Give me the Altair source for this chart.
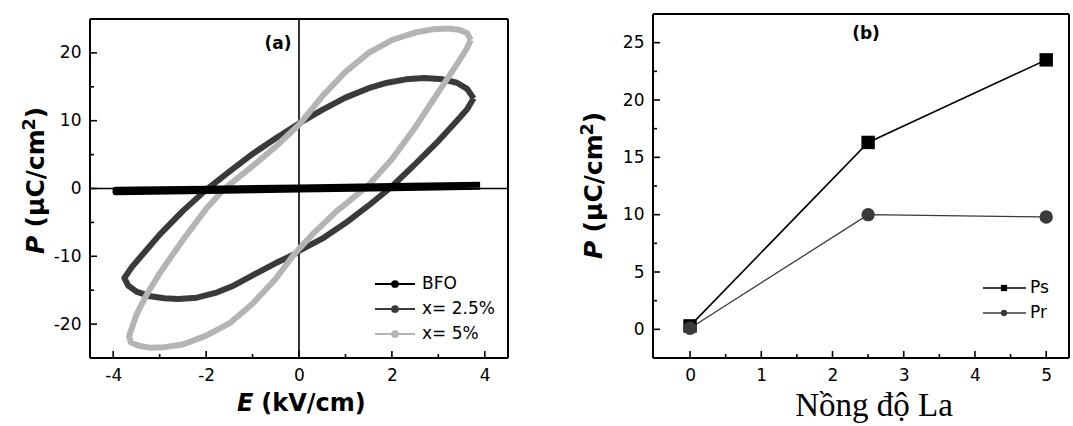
import altair as alt
import pandas as pd

# ---------------- Panel (a): P-E hysteresis loops ----------------
bfo_E = [3.90, 2.00, 0.00, -2.00, -3.95, -3.95, -2.00, 0.00, 2.00, 3.90]
bfo_P = [0.55, 0.36, 0.16, -0.04, -0.20, -0.55, -0.36, -0.16, 0.04, 0.24]

x25_E = [3.76, 3.62, 3.40, 3.10, 2.70, 2.30, 1.90, 1.50, 1.00, 0.50, 0.00, -0.50, -1.00, -1.50,
         -2.00, -2.50, -3.00, -3.40, -3.60, -3.76,
         -3.68, -3.50, -3.20, -2.90, -2.60, -2.20, -1.80, -1.40, -1.00, -0.50, -0.10, 0.00, 0.50,
         1.00, 1.50, 2.00, 2.50, 3.00, 3.40, 3.62, 3.76]
x25_P = [13.3, 14.7, 15.6, 16.1, 16.3, 16.1, 15.6, 14.8, 13.4, 11.6, 9.6, 7.4, 5.1, 2.5,
         -0.2, -3.3, -6.8, -10.0, -11.6, -13.2,
         -14.3, -15.2, -15.9, -16.2, -16.3, -16.1, -15.4, -14.3, -12.8, -11.0, -9.7, -9.2, -7.4,
         -5.1, -2.5, 0.3, 3.6, 7.0, 10.0, 11.7, 13.3]

x5_E = [3.70, 3.62, 3.45, 3.20, 2.90, 2.50, 2.00, 1.50, 1.00, 0.50, 0.00, -0.50, -1.00, -1.60,
        -2.00, -2.50, -3.00, -3.30, -3.50, -3.66,
        -3.62, -3.45, -3.20, -2.90, -2.50, -2.00, -1.50, -1.00, -0.50, -0.15, 0.00, 0.30, 0.80,
        1.50, 2.00, 2.50, 3.00, 3.40, 3.60, 3.70]
x5_P = [21.9, 22.9, 23.4, 23.6, 23.5, 23.0, 21.9, 20.0, 17.2, 13.6, 9.4, 6.2, 3.3, 0.0,
        -3.0, -7.6, -12.5, -15.9, -18.6, -21.8,
        -22.7, -23.2, -23.5, -23.4, -23.0, -21.7, -19.9, -17.0, -13.3, -10.1, -8.9, -6.7, -3.4,
        0.5, 4.3, 9.0, 14.2, 18.3, 20.5, 21.9]

series_names = ["BFO", "x= 2.5%", "x= 5%"]
series_colors = ["#000000", "#3a3a3a", "#b4b4b4"]

a_x_major = [-4, -2, 0, 2, 4]
a_x_minor = [-3, -1, 1, 3]
a_y_major = [-20, -10, 0, 10, 20]
a_y_minor = [-15, -5, 5, 15]

# ---------------- Panel (b): Ps, Pr vs La content ----------------
la_conc = [0, 2.5, 5]
ps_vals = [0.3, 16.3, 23.5]
pr_vals = [0.1, 10.0, 9.8]
b_series = ["Ps", "Pr"]
b_colors = ["#000000", "#3a3a3a"]

b_x_major = [0, 1, 2, 3, 4, 5]
b_x_minor = [0.5, 1.5, 2.5, 3.5, 4.5]
b_y_major = [0, 5, 10, 15, 20, 25]
b_y_minor = [2.5, 7.5, 12.5, 17.5, 22.5]

# panel geometry (panel a's frame starts TOP_A px below its view top)
WA, HA, TOP_A = 418, 344, 5
WB, HB = 416, 344
FONT = "DejaVu Sans"
TFS = 25  # title font size


def one(txt):
    return pd.DataFrame({"t": [txt]})


def text_piece(txt, x, y, size, style="normal", weight="bold", angle=0, align="left",
               baseline="alphabetic", font=FONT):
    kw = dict(align=align, baseline=baseline, fontSize=size, fontWeight=weight,
              fontStyle=style, font=font, color="black")
    if angle:
        kw["angle"] = angle
    return alt.Chart(one(txt)).mark_text(**kw).encode(
        x=alt.value(x), y=alt.value(y), text="t:N")


def ylabel_pieces(bx, by):
    # rotated "P (μC/cm2)" reading bottom-to-top; bx = baseline x, by = start y
    w = TFS
    p_w = 0.733 * w
    sp_w = 0.33 * w
    mid_w = 3.88 * w
    sup = 0.7 * w
    sup_w = 0.696 * sup
    y2 = by - p_w - sp_w
    return [
        text_piece("P", bx, by, w, style="italic", angle=270),
        text_piece("(\u03bcC/cm", bx, y2, w, angle=270),
        text_piece("2", bx - 0.36 * w, y2 - mid_w, sup, angle=270),
        text_piece(")", bx, y2 - mid_w - sup_w, w, angle=270),
    ]


def frame_layers(W, top, H):
    fr = dict(color="black", strokeWidth=2)
    d = one("f")
    return [
        alt.Chart(d).mark_rule(**fr).encode(x=alt.value(0), x2=alt.value(W), y=alt.value(top)),
        alt.Chart(d).mark_rule(**fr).encode(x=alt.value(0), x2=alt.value(W), y=alt.value(H)),
        alt.Chart(d).mark_rule(**fr).encode(x=alt.value(0), y=alt.value(top), y2=alt.value(H)),
        alt.Chart(d).mark_rule(**fr).encode(x=alt.value(W), y=alt.value(top), y2=alt.value(H)),
    ]


def tick_layers(major_x, minor_x, major_y, minor_y, sx, sy, axx, axy, H):
    layers = []
    for vals, ln in ((major_x, 7), (minor_x, 4)):
        layers.append(alt.Chart(pd.DataFrame({"t": vals})).mark_rule(
            color="black", strokeWidth=1.6).encode(
            x=alt.X("t:Q", scale=sx, axis=axx), y=alt.value(H), y2=alt.value(H - ln)))
    for vals, ln in ((major_y, 7), (minor_y, 4)):
        layers.append(alt.Chart(pd.DataFrame({"t": vals})).mark_rule(
            color="black", strokeWidth=1.6).encode(
            y=alt.Y("t:Q", scale=sy, axis=axy), x=alt.value(0), x2=alt.value(ln)))
    return layers


# ----- panel (a) -----
a_ytop = -25 + 50.0 * HA / (HA - TOP_A)
sxa = alt.Scale(domain=[-4.5, 4.5], nice=False, zero=False)
sya = alt.Scale(domain=[-25, a_ytop], nice=False, zero=False)
axxa = alt.Axis(values=a_x_major, title=None, labelExpr="toString(datum.value)")
axya = alt.Axis(values=a_y_major, title=None, labelExpr="toString(datum.value)")


def loop_layer(E, P, color):
    df = pd.DataFrame({"E": E, "P": P, "idx": list(range(len(E)))})
    return alt.Chart(df).mark_line(strokeWidth=6, strokeJoin="round", color=color).encode(
        x=alt.X("E:Q", scale=sxa, axis=axxa),
        y=alt.Y("P:Q", scale=sya, axis=axya),
        order="idx:Q")


zero_v = alt.Chart(pd.DataFrame({"z": [0]})).mark_rule(color="black", strokeWidth=1.6).encode(
    x=alt.X("z:Q", scale=sxa, axis=axxa), y=alt.value(TOP_A), y2=alt.value(HA))
zero_h = alt.Chart(pd.DataFrame({"z": [0]})).mark_rule(color="black", strokeWidth=1.6).encode(
    y=alt.Y("z:Q", scale=sya, axis=axya))

layers_a = [zero_v, zero_h]
layers_a += tick_layers(a_x_major, a_x_minor, a_y_major, a_y_minor, sxa, sya, axxa, axya, HA)
layers_a.append(loop_layer(x25_E, x25_P, series_colors[1]))
layers_a.append(loop_layer(x5_E, x5_P, series_colors[2]))
layers_a.append(loop_layer(bfo_E, bfo_P, series_colors[0]))
layers_a += frame_layers(WA, TOP_A, HA)

# legend (a)
for i, (name, col) in enumerate(zip(series_names, series_colors)):
    yy = TOP_A + 265 + 25 * i
    layers_a.append(alt.Chart(one(name)).mark_rule(color=col, strokeWidth=2).encode(
        x=alt.value(285), x2=alt.value(325), y=alt.value(yy)))
    layers_a.append(alt.Chart(one(name)).mark_point(
        filled=True, shape="circle", size=60, color=col, opacity=1).encode(
        x=alt.value(305), y=alt.value(yy)))
    layers_a.append(text_piece(name, 332, yy, 17, weight="normal", baseline="middle"))

layers_a.append(text_piece("(a)", 188, TOP_A + 25, 17, align="center", baseline="middle"))
layers_a += ylabel_pieces(-46, TOP_A + 235)
layers_a.append(text_piece("E", 147, TOP_A + 392, 24, style="italic"))
layers_a.append(text_piece("(kV/cm)", 147 + 0.683 * 24 + 0.33 * 24, TOP_A + 392, 24))

panel_a = alt.layer(*layers_a).properties(width=WA, height=HA)

# ----- panel (b) -----
sxb = alt.Scale(domain=[-0.52, 5.32], nice=False, zero=False)
syb = alt.Scale(domain=[-2.5, 27.5], nice=False, zero=False)
axxb = alt.Axis(values=b_x_major, title=None, labelExpr="toString(datum.value)")
axyb = alt.Axis(values=b_y_major, title=None, labelExpr="toString(datum.value)")

df_b = pd.DataFrame({
    "La": la_conc * 2,
    "P": ps_vals + pr_vals,
    "series": [b_series[0]] * len(la_conc) + [b_series[1]] * len(la_conc),
})
df_ps = df_b[df_b.series == "Ps"]
df_pr = df_b[df_b.series == "Pr"]

layers_b = tick_layers(b_x_major, b_x_minor, b_y_major, b_y_minor, sxb, syb, axxb, axyb, HB)
enc_b = dict(x=alt.X("La:Q", scale=sxb, axis=axxb), y=alt.Y("P:Q", scale=syb, axis=axyb))
layers_b.append(alt.Chart(df_ps).mark_line(color=b_colors[0], strokeWidth=1.6).encode(**enc_b))
layers_b.append(alt.Chart(df_pr).mark_line(color=b_colors[1], strokeWidth=1.3).encode(**enc_b))
layers_b.append(alt.Chart(df_ps).mark_point(shape="square", filled=True, size=180,
                                            color=b_colors[0], opacity=1).encode(**enc_b))
layers_b.append(alt.Chart(df_pr).mark_point(shape="circle", filled=True, size=180,
                                            color=b_colors[1], opacity=1).encode(**enc_b))
layers_b += frame_layers(WB, 0, HB)

# legend (b)
b_shapes = ["square", "circle"]
for i, (name, col, shp) in enumerate(zip(b_series, b_colors, b_shapes)):
    yy = 274 + 25 * i
    layers_b.append(alt.Chart(one(name)).mark_rule(color=col, strokeWidth=1.6).encode(
        x=alt.value(330), x2=alt.value(373), y=alt.value(yy)))
    layers_b.append(alt.Chart(one(name)).mark_point(
        filled=True, shape=shp, size=40, color=col, opacity=1).encode(
        x=alt.value(351), y=alt.value(yy)))
    layers_b.append(text_piece(name, 377, yy, 17, weight="normal", baseline="middle"))

layers_b.append(text_piece("(b)", 213, 20, 17, align="center", baseline="middle"))
layers_b += ylabel_pieces(-51, 245)
layers_b.append(text_piece("N\u1ed3ng \u0111\u1ed9 La", 221, 402, 33, weight="normal",
                           align="center", font="Liberation Serif"))

panel_b = alt.layer(*layers_b).properties(width=WB, height=HB)

chart = alt.hconcat(panel_a, panel_b, spacing=70).properties(
    padding={"left": 21, "top": 13, "right": 0, "bottom": 1}
).configure_view(stroke=None).configure_axis(
    labelFont=FONT, labelFontSize=17, labelColor="black", ticks=False, domain=False,
    grid=False, labelPadding=9
)

chart.save("out.html", embed_options={"renderer": "svg", "actions": False})
